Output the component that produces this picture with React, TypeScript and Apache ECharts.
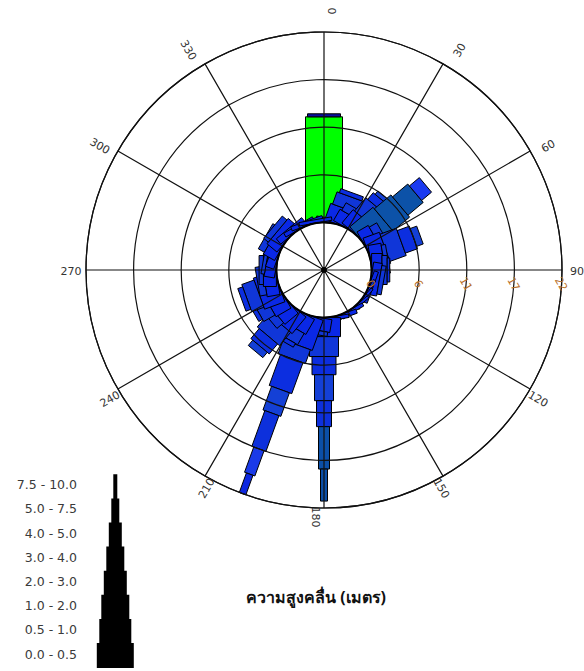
import React, { useEffect, useRef } from "react";
import * as echarts from "echarts";

// ---------- data ----------
const directions = [0, 10, 20, 30, 40, 50, 60, 70, 80, 90, 100, 110, 120, 130, 140, 150, 160, 170,
  180, 190, 200, 210, 220, 230, 240, 250, 260, 270, 280, 290, 300, 310, 320, 330, 340, 350];

const classLabels = ["0.0 - 0.5", "0.5 - 1.0", "1.0 - 2.0", "2.0 - 3.0", "3.0 - 4.0", "4.0 - 5.0", "5.0 - 7.5", "7.5 - 10.0"];

// frequency (%) per direction for each wave-height class
const h00_05 = [12.2, 0, 0, 0, 0, 0, 0, 0, 0, 0, 0, 0, 0, 0, 0, 0, 0, 0, 0, 0, 0, 0, 0, 0, 0, 0, 0, 0, 0, 0, 0, 0, 0, 0, 0, 0];
const h05_10 = [0.35, 0.5, 2.0, 1.5, 2.0, 3.5, 1.5, 2.0, 1.5, 1.2, 1.0, 0.5, 0.3, 0.3, 0.3, 0.4, 0.5, 0.4, 2.2, 1.5, 3.7, 2.0, 2.5, 2.0, 2.0, 2.5, 1.5, 1.5, 1.2, 1.0, 1.5, 1.5, 0.8, 0.5, 0.5, 0.4];
const h10_20 = [0, 0, 1.5, 1.0, 2.0, 2.5, 1.0, 2.0, 0.5, 0.6, 0.5, 0, 0, 0, 0, 0, 0, 0, 2.3, 0.5, 1.7, 1.5, 2.0, 1.0, 1.5, 1.5, 0.8, 0.5, 0.4, 0, 0.8, 0.7, 0, 0, 0, 0];
const h20_30 = [0, 0, 0.5, 0, 1.0, 2.3, 0, 1.5, 0, 0.3, 0, 0, 0, 0, 0, 0, 0, 0, 2.1, 0, 3.8, 0.5, 1.5, 0, 0.5, 0.6, 0, 0, 0, 0, 0, 0, 0, 0, 0, 0];
const h30_40 = [0, 0, 0, 0, 0.5, 1.5, 0, 0.8, 0, 0, 0, 0, 0, 0, 0, 0, 0, 0, 3.0, 0, 2.9, 0, 0.8, 0, 0, 0, 0, 0, 0, 0, 0, 0, 0, 0, 0, 0];
const h40_50 = [0, 0, 0, 0, 0, 0, 0, 0, 0, 0, 0, 0, 0, 0, 0, 0, 0, 0, 3.0, 0, 4.4, 0, 0, 0, 0, 0, 0, 0, 0, 0, 0, 0, 0, 0, 0, 0];
const h50_75 = [0, 0, 0, 0, 0, 0, 0, 0, 0, 0, 0, 0, 0, 0, 0, 0, 0, 0, 4.9, 0, 3.1, 0, 0, 0, 0, 0, 0, 0, 0, 0, 0, 0, 0, 0, 0, 0];
const h75_100 = [0, 0, 0, 0, 0, 0, 0, 0, 0, 0, 0, 0, 0, 0, 0, 0, 0, 0, 3.7, 0, 2.4, 0, 0, 0, 0, 0, 0, 0, 0, 0, 0, 0, 0, 0, 0, 0];

const classSeries = [h00_05, h05_10, h10_20, h20_30, h30_40, h40_50, h50_75, h75_100];

const angleTicks = [0, 30, 60, 90, 120, 150, 180, 210, 240, 270, 300, 330];
const angleTickLabels = ["0", "30", "60", "90", "120", "150", "180", "210", "240", "270", "300", "330"];
const radiusTicks = [0, 5.5, 11, 16.5, 22];
const radiusTickLabels = ["0", "6", "11", "17", "22"];

const title = "ความสูงคลื่น (เมตร)";

// ---------- styles ----------
const CX = 324;
const CY = 270;
const R = 238;
const barWidths = [37, 33, 29, 24, 19, 15, 11, 7];
const legendWidths = [37, 32, 28, 23, 18, 13, 8, 4];
const FONT = '"DejaVu Sans", Verdana, sans-serif';
const GRID = "#111";

function segColor(dir: number, cls: number): string {
  if (cls === 0) return "#00ff00";
  if (dir === 0) return "#0a10a0";
  if (dir === 50) return cls >= 4 ? "#1a3af0" : "#0c52a8";
  if (dir === 180 && cls >= 6) return "#0b4fa8";
  const shades = ["#0a28e6", "#0a28e6", "#1036d8", "#0c2ee0", "#1440d6", "#0d30dc", "#1a3ae8", "#0d28e0"];
  return shades[cls];
}

export default function App() {
  const ref = useRef<HTMLDivElement>(null);
  useEffect(() => {
    document.body.style.margin = "0";
    if (!ref.current) return;
    const chart = echarts.init(ref.current, undefined, { renderer: "svg" });

    // segments: [start, direction, end, classIndex]
    const segs: number[][] = [];
    directions.forEach((d, i) => {
      let acc = 0;
      classSeries.forEach((arr, c) => {
        const v = arr[i];
        if (v > 0) {
          segs.push([acc, d, acc + v, c]);
          acc += v;
        }
      });
    });

    const option: any = {
      animation: false,
      polar: { center: [CX, CY], radius: [0, R] },
      angleAxis: {
        type: "value", min: 0, max: 360, interval: 30, startAngle: 90, clockwise: true, z: 5,
        axisLine: { show: true, lineStyle: { color: GRID, width: 1.2 } },
        axisTick: { show: false }, axisLabel: { show: false },
        splitLine: { show: true, lineStyle: { color: GRID, width: 1.2 } },
      },
      radiusAxis: {
        type: "value", min: -5.5, max: 22, interval: 5.5, z: 5,
        axisLine: { show: false }, axisTick: { show: false }, axisLabel: { show: false },
        splitLine: { show: true, lineStyle: { color: GRID, width: 1.2 } },
      },
      series: [
        {
          type: "custom", coordinateSystem: "polar", z: 2, clip: false,
          data: segs,
          renderItem: (params: any, api: any) => {
            const r0 = api.value(0), dir = api.value(1), r1 = api.value(2), cls = api.value(3);
            const cs = params.coordSys;
            const p0 = api.coord([r0, dir]);
            const p1 = api.coord([r1, dir]);
            let ux = p1[0] - cs.cx, uy = p1[1] - cs.cy;
            const l = Math.hypot(ux, uy) || 1;
            ux /= l; uy /= l;
            const hw = barWidths[cls] / 2;
            const nx = -uy * hw, ny = ux * hw;
            return {
              type: "polygon",
              shape: { points: [[p0[0] + nx, p0[1] + ny], [p1[0] + nx, p1[1] + ny], [p1[0] - nx, p1[1] - ny], [p0[0] - nx, p0[1] - ny]] },
              style: { fill: segColor(dir, cls), stroke: "#000", lineWidth: 1 },
            };
          },
        },
        {
          // inner circle + centre dot
          type: "custom", coordinateSystem: "polar", z: 6, clip: false, silent: true,
          data: [[0, 0]],
          renderItem: (params: any, api: any) => {
            const cs = params.coordSys;
            const p = api.coord([api.value(0), 0]);
            const rr = Math.hypot(p[0] - cs.cx, p[1] - cs.cy);
            return {
              type: "group",
              children: [
                { type: "circle", shape: { cx: cs.cx, cy: cs.cy, r: rr }, style: { fill: "none", stroke: "#000", lineWidth: 2 } },
                { type: "circle", shape: { cx: cs.cx, cy: cs.cy, r: 3 }, style: { fill: "#000" } },
              ],
            };
          },
        },
        {
          // angle tick labels
          type: "custom", coordinateSystem: "polar", z: 7, clip: false, silent: true,
          data: angleTicks.map((a, i) => [22, a, i]),
          renderItem: (params: any, api: any) => {
            const cs = params.coordSys;
            const a = api.value(1);
            const p = api.coord([api.value(0), a]);
            let ux = p[0] - cs.cx, uy = p[1] - cs.cy;
            const l = Math.hypot(ux, uy) || 1;
            ux /= l; uy /= l;
            const left = a <= 180;
            const rotDeg = left ? 90 - a : 270 - a;
            const rot = (rotDeg * Math.PI) / 180;
            const off = 15 + 6 * Math.cos((a * Math.PI) / 180);
            // shift along glyph "down" direction after rotation
            const s = 1.5 + 7 * Math.abs(Math.sin(rot));
            const dx = Math.sin(rot) * s, dy = Math.cos(rot) * s;
            return {
              type: "text",
              x: p[0] + ux * off + dx, y: p[1] + uy * off + dy,
              rotation: rot,
              style: {
                text: angleTickLabels[api.value(2)], fill: "#333", font: `11px ${FONT}`,
                align: "center", verticalAlign: "middle",
                textAlign: "center", textVerticalAlign: "middle",
              },
            };
          },
        },
        {
          // radius tick labels
          type: "custom", coordinateSystem: "polar", z: 7, clip: false, silent: true,
          data: radiusTicks.map((v, i) => [v, 90, i]),
          renderItem: (params: any, api: any) => {
            const p = api.coord([api.value(0), api.value(1)]);
            return {
              type: "text",
              x: p[0] - 1, y: p[1] + 14,
              rotation: -Math.PI / 3,
              style: {
                text: radiusTickLabels[api.value(2)], fill: "#b8702a", font: `11px ${FONT}`,
                align: "center", verticalAlign: "middle", textAlign: "center", textVerticalAlign: "middle",
              },
            };
          },
        },
      ],
      graphic: [
        ...classLabels.map((t, i) => ({
          type: "text", x: 77, y: 654 - i * 24.2,
          style: { text: t, fill: "#3a3a3a", font: `12.5px ${FONT}`, align: "right", verticalAlign: "middle", textAlign: "right", textVerticalAlign: "middle" },
        })),
        ...legendWidths.map((w, i) => ({
          type: "rect",
          shape: { x: 115.3 - w / 2, y: 643 - i * 24.1, width: w, height: 668 - (643 - i * 24.1) },
          style: { fill: "#000" },
        })),
        {
          type: "text", x: 246, y: 597,
          style: { text: title, fill: "#111", font: `bold 16px "Noto Sans", "DejaVu Sans", sans-serif`, verticalAlign: "middle", textVerticalAlign: "middle" },
        },
      ],
    };
    chart.setOption(option);
    return () => chart.dispose();
  }, []);
  return <div ref={ref} style={{ width: 584, height: 671 }} />;
}
